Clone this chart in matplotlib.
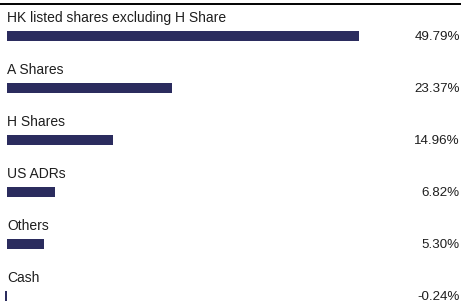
import matplotlib
matplotlib.use("Agg")
import matplotlib.pyplot as plt
from matplotlib.lines import Line2D

categories = ["HK listed shares excluding H Share", "A Shares", "H Shares", "US ADRs", "Others", "Cash"]
values = [49.79, 23.37, 14.96, 6.82, 5.30, -0.24]
value_labels = ["49.79%", "23.37%", "14.96%", "6.82%", "5.30%", "-0.24%"]

W, H = 461, 302
fig = plt.figure(figsize=(W / 100, H / 100), dpi=100)
ax = fig.add_axes([0, 0, 1, 1])
ax.set_axis_off()

x0_px = 7.0
scale = (359 - 7) / 49.79
ax.set_xlim(-x0_px / scale, (W - x0_px) / scale)
row_px = 52.0
first_px = 36.0
ax.set_ylim((H - first_px) / row_px, -first_px / row_px)

color = "#2b2c5e"
txtc = "#1e1e1e"
font = "Liberation Sans"
ys = list(range(len(categories)))
ax.barh(ys, values, height=10 / row_px, color=color, left=0)
for i, (c, lab) in enumerate(zip(categories, value_labels)):
    ax.text(0, i - 18 / row_px, c, ha="left", va="center", fontsize=10, family=font, color=txtc)
    ax.text((W - 1 - x0_px) / scale, i + 1 / row_px, lab, ha="right", va="center", fontsize=9.6, family=font, color=txtc)

fig.add_artist(Line2D([0, 1], [1 - 4 / H, 1 - 4 / H], color="black", linewidth=1.4, transform=fig.transFigure))

fig.savefig("out.png", dpi=100)
